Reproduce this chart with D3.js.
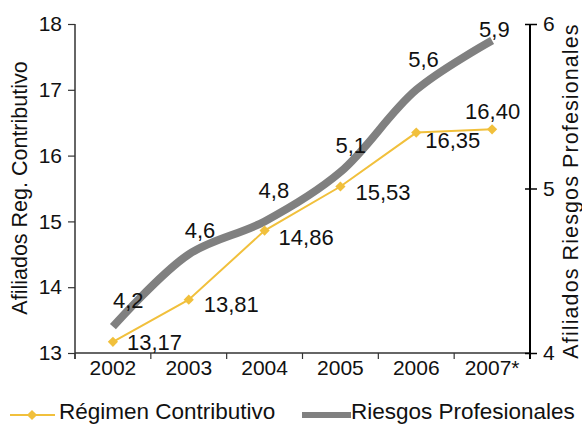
<!DOCTYPE html>
<html>
<head>
<meta charset="utf-8">
<script src="https://cdn.jsdelivr.net/npm/d3@7"></script>
<style>
  html, body { margin: 0; padding: 0; background: #fff; }
  svg text { font-family: "Liberation Sans", Arial, Helvetica, sans-serif; fill: #111; }
</style>
</head>
<body>
<svg id="chart" width="582" height="424"></svg>
<script>
// ---- data ----
const categories = ["2002", "2003", "2004", "2005", "2006", "2007*"];
const regimenContributivo = [13.17, 13.81, 14.86, 15.53, 16.35, 16.40];
const riesgosProfesionales = [4.16, 4.6, 4.8, 5.1, 5.6, 5.9];
const leftTicks = [13, 14, 15, 16, 17, 18];
const rightTicks = [4, 5, 6];
const seriesNames = ["Régimen Contributivo", "Riesgos Profesionales"];
const axisTitles = ["Afiliados Reg. Contributivo", "Afiliados Riesgos Profesionales"];

// label offsets (layout only)
const goldLabelOffsets = [[14, 8], [15, 12], [14, 14], [15, 13], [9, 15], [-27, -10]];
const grayLabelOffsets = [[0, -19], [-4, -16], [-6, -23], [-5, -19], [-8, -23], [-13, -3]];

const fmtComma2 = v => d3.format(".2f")(v).replace(".", ",");
const fmtComma1 = v => d3.format(".1f")(v).replace(".", ",");

const gold = "#F1C03C";
const gray = "#808080";

const svg = d3.select("#chart");
const pL = 75, pR = 530, pT = 24, pB = 353;

const x = d3.scaleBand().domain(categories).range([pL, pR]).padding(0);
const yL = d3.scaleLinear().domain([13, 18]).range([pB, pT]);
const yR = d3.scaleLinear().domain([4, 6]).range([pB, pT]);
const cx = c => x(c) + x.bandwidth() / 2;

// x axis
const gx = svg.append("g").attr("transform", `translate(0,${pB})`);
gx.append("line").attr("x1", pL).attr("x2", pR).attr("y1", 0).attr("y2", 0)
  .attr("stroke", "#333").attr("stroke-width", 1.5);
const boundaries = categories.map(c => x(c)).concat([pR]);
gx.selectAll("line.sep").data(boundaries).join("line").attr("class", "sep")
  .attr("x1", d => d).attr("x2", d => d).attr("y1", 0).attr("y2", 6)
  .attr("stroke", "#333").attr("stroke-width", 1.2);
gx.selectAll("text.cat").data(categories).join("text").attr("class", "cat")
  .attr("x", d => cx(d)).attr("y", 22).attr("text-anchor", "middle")
  .attr("font-size", 21).text(d => d);

const gyl = svg.append("g").attr("transform", `translate(${pL},0)`)
  .call(d3.axisLeft(yL).tickValues(leftTicks).tickSize(7).tickPadding(6).tickFormat(d3.format("d")));
gyl.select(".domain").attr("stroke", "#333").attr("stroke-width", 1.5)
  .attr("d", `M0,${pT}V${pB + 6}`);
gyl.selectAll(".tick line").attr("stroke", "#333").attr("stroke-width", 1.2);
gyl.selectAll(".tick text").attr("font-size", 21).attr("fill", "#111")
  .attr("font-family", "Liberation Sans, Arial, sans-serif");

const gyr = svg.append("g").attr("transform", `translate(${pR},0)`)
  .call(d3.axisRight(yR).tickValues(rightTicks).tickSize(7).tickPadding(6).tickFormat(d3.format("d")));
gyr.select(".domain").attr("stroke", "#000").attr("stroke-width", 2)
  .attr("d", `M0,${pT}V${pB + 6}`);
gyr.selectAll(".tick line").attr("stroke", "#000").attr("stroke-width", 1.5).attr("x1", -5);
gyr.selectAll(".tick text").attr("font-size", 21).attr("fill", "#111")
  .attr("font-family", "Liberation Sans, Arial, sans-serif");

// axis titles
svg.append("text").attr("transform", `translate(27,188) rotate(-90)`)
  .attr("text-anchor", "middle").attr("font-size", 21.5).text(axisTitles[0]);
svg.append("text").attr("transform", `translate(578,191) rotate(-90)`)
  .attr("text-anchor", "middle").attr("font-size", 21.5).attr("letter-spacing", 1.1).text(axisTitles[1]);

// gray smoothed line
const grayLine = d3.line().x((d, i) => cx(categories[i])).y(d => yR(d)).curve(d3.curveCatmullRom.alpha(0.5));
svg.append("path").datum(riesgosProfesionales).attr("d", grayLine)
  .attr("fill", "none").attr("stroke", gray).attr("stroke-width", 8).attr("stroke-linecap", "butt");

// gold line with diamonds
const goldLine = d3.line().x((d, i) => cx(categories[i])).y(d => yL(d));
svg.append("path").datum(regimenContributivo).attr("d", goldLine)
  .attr("fill", "none").attr("stroke", gold).attr("stroke-width", 2);
const diamond = d3.symbol().type(d3.symbolSquare).size(52);
svg.selectAll("path.mk").data(regimenContributivo).join("path").attr("class", "mk")
  .attr("d", diamond)
  .attr("transform", (d, i) => `translate(${cx(categories[i])},${yL(d)}) rotate(45)`)
  .attr("fill", gold);

// labels
svg.selectAll("text.gl").data(regimenContributivo).join("text").attr("class", "gl")
  .attr("x", (d, i) => cx(categories[i]) + goldLabelOffsets[i][0])
  .attr("y", (d, i) => yL(d) + goldLabelOffsets[i][1])
  .attr("font-size", 22).attr("fill", "#000").text(d => fmtComma2(d));
svg.selectAll("text.rl").data(riesgosProfesionales).join("text").attr("class", "rl")
  .attr("x", (d, i) => cx(categories[i]) + grayLabelOffsets[i][0])
  .attr("y", (d, i) => yR(d) + grayLabelOffsets[i][1])
  .attr("font-size", 22).attr("fill", "#000").text(d => fmtComma1(d));

// legend
const lg = svg.append("g");
lg.append("line").attr("x1", 10).attr("x2", 55).attr("y1", 415).attr("y2", 415)
  .attr("stroke", gold).attr("stroke-width", 2);
lg.append("path").attr("d", diamond).attr("transform", "translate(32,415) rotate(45)").attr("fill", gold);
lg.append("text").attr("x", 59).attr("y", 419).attr("font-size", 22.5).text(seriesNames[0]);
lg.append("line").attr("x1", 302).attr("x2", 351).attr("y1", 415).attr("y2", 415)
  .attr("stroke", gray).attr("stroke-width", 6);
lg.append("text").attr("x", 351).attr("y", 419).attr("font-size", 22.5).text(seriesNames[1]);
</script>
</body>
</html>
